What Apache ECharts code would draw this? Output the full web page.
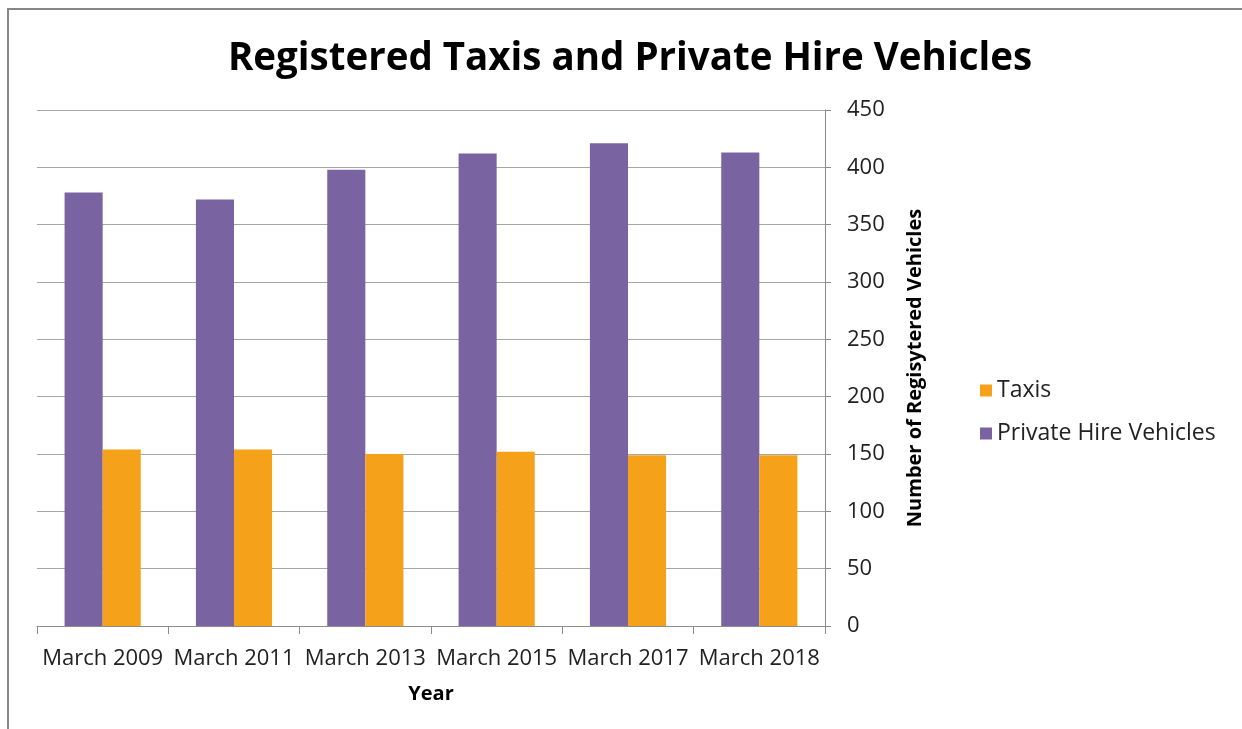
<!DOCTYPE html>
<html>
<head>
<meta charset="utf-8">
<title>Registered Taxis and Private Hire Vehicles</title>
<script src="https://cdn.jsdelivr.net/npm/echarts@6/dist/echarts.min.js"></script>
<style>
  html, body { margin: 0; padding: 0; background: #ffffff; }
  #chart { width: 1242px; height: 729px; }
</style>
</head>
<body>
<div id="chart"></div>
<script>
// Survey years (category axis)
const years = ['March 2009', 'March 2011', 'March 2013', 'March 2015', 'March 2017', 'March 2018'];
// Licensed vehicle counts per year
const privateHire = [378, 372, 398, 412, 421, 413];
const taxis = [154, 154, 150, 152, 149, 149];
// Value axis ticks
const yTicks = [0, 50, 100, 150, 200, 250, 300, 350, 400, 450];

const FONT = '"Open Sans", Lato, sans-serif';

const chart = echarts.init(document.getElementById('chart'), null, { renderer: 'canvas' });

chart.setOption({
  backgroundColor: '#ffffff',
  animation: false,
  graphic: [{
    type: 'rect',
    shape: { x: 8, y: 9, width: 1240, height: 740 },
    style: { fill: 'none', stroke: '#878787', lineWidth: 2 },
    silent: true
  }],
  title: {
    text: 'Registered Taxis and Private Hire Vehicles',
    left: 625,
    textAlign: 'center',
    top: 35,
    textStyle: { fontFamily: FONT, fontSize: 38.5, fontWeight: 'bold', color: '#000000' }
  },
  legend: {
    orient: 'vertical',
    left: 975,
    top: 374,
    icon: 'rect',
    itemWidth: 12,
    itemHeight: 12,
    itemGap: 20,
    data: ['Taxis', 'Private Hire Vehicles'],
    textStyle: { fontFamily: FONT, fontSize: 23, color: '#222222' }
  },
  grid: { left: 37, right: 417, top: 110, bottom: 103, containLabel: false },
  xAxis: {
    type: 'category',
    data: years,
    name: 'Year',
    nameLocation: 'middle',
    nameGap: 58,
    nameTextStyle: { fontFamily: FONT, fontSize: 20, fontWeight: 'bold', color: '#000000' },
    axisLine: { lineStyle: { color: '#8c8c8c', width: 1 } },
    axisTick: { show: true, length: 8, lineStyle: { color: '#8c8c8c' } },
    axisLabel: { interval: 0, margin: 22, fontFamily: FONT, fontSize: 22, color: '#222222' },
    splitLine: { show: false }
  },
  yAxis: {
    type: 'value',
    position: 'right',
    min: yTicks[0],
    max: yTicks[yTicks.length - 1],
    interval: 50,
    name: 'Number of Regisytered Vehicles',
    nameLocation: 'middle',
    nameRotate: 90,
    nameGap: 80,
    nameTextStyle: { fontFamily: FONT, fontSize: 20, fontWeight: 'bold', color: '#000000' },
    axisLine: { show: true, lineStyle: { color: '#8c8c8c', width: 1 } },
    axisTick: { show: true, length: 6, lineStyle: { color: '#8c8c8c' } },
    axisLabel: { margin: 22, fontFamily: FONT, fontSize: 22, color: '#222222' },
    splitLine: { show: true, lineStyle: { color: '#a6a6a6', width: 1 } }
  },
  series: [
    {
      name: 'Private Hire Vehicles',
      type: 'bar',
      data: privateHire,
      barGap: '0%',
      barCategoryGap: '42%',
      itemStyle: { color: '#7964A1' }
    },
    {
      name: 'Taxis',
      type: 'bar',
      data: taxis,
      barGap: '0%',
      barCategoryGap: '42%',
      itemStyle: { color: '#F5A21A' }
    }
  ]
});
</script>
</body>
</html>
